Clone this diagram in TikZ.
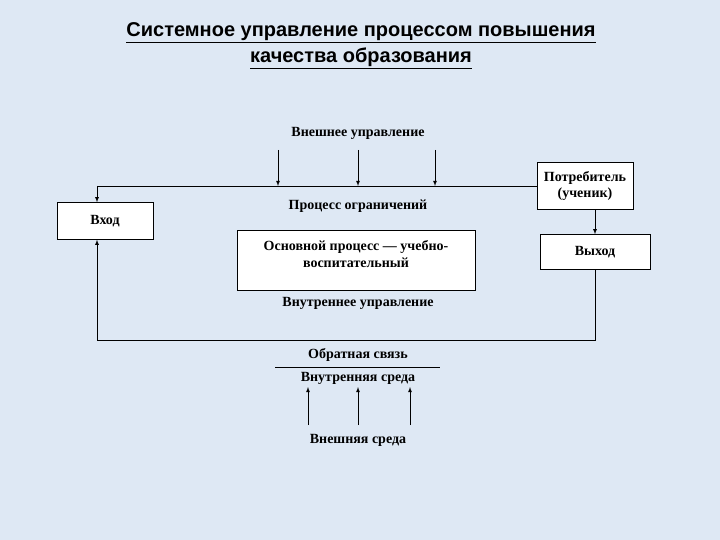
\documentclass[tikz,border=0pt]{standalone}
\usepackage{fontspec}
\setmainfont{Liberation Serif}
\newfontfamily\titlefont{Liberation Sans}
\usetikzlibrary{positioning}
\begin{document}
\begin{tikzpicture}[x=1pt, y=-1pt, >={latex[scale=1.3]},
    box/.style={draw, fill=white, align=center, font=\bfseries\fontsize{14}{17}\selectfont},
    lbl/.style={align=center, font=\bfseries\fontsize{14}{17}\selectfont},
    link/.style={draw, thick}]
    \definecolor{bg}{HTML}{DEE8F4}
    \fill[bg] (0,0) rectangle (720,540);
    \useasboundingbox (0,0) rectangle (720,540);
    \node (title) at (361,46) [align=center, font=\titlefont\bfseries\fontsize{20}{26}\selectfont]
        {\underline{Системное управление процессом повышения}\\\underline{качества образования}};
    \node (ext) at (358,133) [lbl] {Внешнее управление};
    \node (input) [box, minimum width=96pt, minimum height=37pt] at (105,221) {Вход};
    \node (cons) [box, minimum width=96pt, minimum height=47pt] at (585,186) {Потребитель\\(ученик)};
    \node (output) [box, minimum width=110pt, minimum height=35pt] at (595,252) {Выход};
    \node (limit) at (358,206) [lbl] {Процесс ограничений};
    \node (main) [box, minimum width=238pt, minimum height=60pt, text depth=12pt] at (356,260) {Основной процесс — учебно-\\воспитательный};
    \node (int) at (358,303) [lbl] {Внутреннее управление};
    \node (fb) at (358,355) [lbl] {Обратная связь};
    \node (env) at (358,378) [lbl] {Внутренняя среда};
    \node (outer) at (358,440) [lbl] {Внешняя среда};
    \coordinate (top) at (97,186);
    \coordinate (bot) at (97,340);
    % upper line
    \draw[link] (cons.west |- top) -- (top);
    \draw[link,->] (top) -- (input.north -| top);
    \foreach \x in {278,358,435}
        \draw[link,->] (\x,150) -- (\x,186);
    \draw[link,->] (cons.south -| output) -- (output);
    % feedback
    \draw[link] (output.south) -- (output.south |- bot) -- (bot);
    \draw[link,->] (bot) -- (input.south -| bot);
    \draw (275,367) -- (440,367);
    \foreach \x in {308,358,410}
        \draw[link,->] (\x,425) -- (\x,387);
\end{tikzpicture}
\end{document}
